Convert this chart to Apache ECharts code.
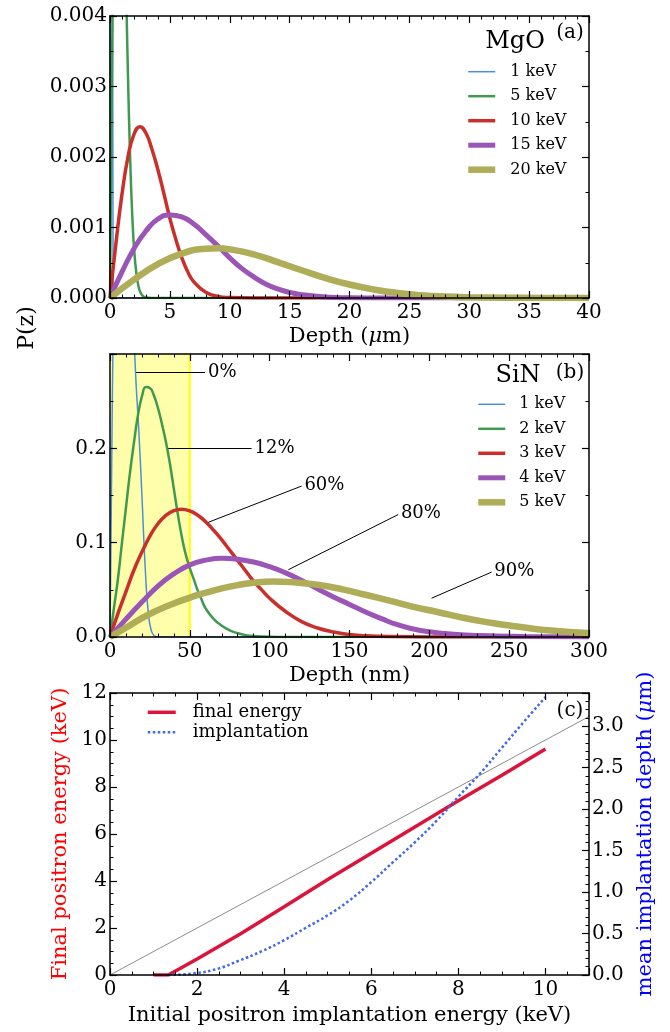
<!DOCTYPE html>
<html>
<head>
<meta charset="utf-8">
<title>Positron implantation profiles</title>
<script src="https://cdn.jsdelivr.net/npm/echarts@6/dist/echarts.min.js"></script>
<style>
html,body{margin:0;padding:0;background:#fff;}
#chart{width:670px;height:1032px;}
</style>
</head>
<body>
<div id="chart"></div>
<script>
// (a) MgO, depth in um
var mgoLabels = ['1 keV', '5 keV', '10 keV', '15 keV', '20 keV'];
var mgo1 = [[0,0],[0.02,0.03],[0.05,0.08],[0.08,0.1],[0.12,0.07],[0.16,0.03],[0.2,0.008],[0.25,0.001],[0.3,0],[40,0]];
var mgo5 = [[0,0],[0.1,0.00198],[0.2,0.00384],[0.3,0.00548],[0.5,0.00779],[0.7,0.00858],[0.9,0.008],[1.1,0.00656],[1.2,0.00569],[1.3,0.0048],[1.4,0.00394],[1.5,0.00316],[1.6,0.00247],[1.7,0.00189],[1.8,0.00141],[1.9,0.00103],[2.0,0.00073],[2.2,0.00035],[2.4,0.00015],[2.6,0.00006],[2.8,0.00002],[3.0,0.000007],[3.5,0],[40,0]];
var mgo10 = [[0,0],[0.5,0.00078],[1,0.00147],[1.5,0.002],[2,0.00232],[2.5,0.00243],[3,0.00234],[3.5,0.00211],[4,0.00182],[4.5,0.00148],[5,0.00113],[5.5,0.00083],[6,0.00057],[6.5,0.00037],[7,0.00023],[8,0.00008],[9,0.000023],[10,0.000006],[12,0],[40,0]];
var mgo15 = [[0,0],[1,0.00037],[2,0.0007],[3,0.00095],[4,0.00112],[5,0.001177],[6,0.00115],[7,0.00105],[8,0.0009],[9,0.00074],[10,0.00057],[11,0.00042],[12,0.0003],[13,0.0002],[14,0.00013],[15,0.00008],[16,0.000048],[18,0.000015],[20,0.000004],[23,0],[40,0]];
var mgo20 = [[0,0],[2,0.00026],[4,0.00048],[6,0.00063],[8,0.0007],[9,0.000705],[10,0.00069],[12,0.00062],[14,0.00051],[16,0.000394],[18,0.000283],[20,0.000191],[22,0.000121],[24,0.000072],[26,0.00004],[28,0.000021],[30,0.000011],[33,0.000004],[36,0.000001],[40,0]];

// (b) SiN, depth in nm
var sinLabels = ['1 keV', '2 keV', '3 keV', '4 keV', '5 keV'];
var sin1 = [[0,0],[1,0.17],[2,0.33],[4,0.55],[6,0.66],[8,0.68],[10,0.62],[12,0.5],[14,0.37],[16,0.28],[18,0.22],[20,0.15],[22,0.075],[24,0.025],[26,0.006],[28,0.001],[30,0],[300,0]];
var sin2 = [[0,0],[2.5,0.031],[5,0.062],[7.5,0.1],[10,0.137],[12.5,0.174],[15,0.206],[17.5,0.235],[20,0.255],[22.5,0.265],[25,0.264],[27.5,0.256],[30,0.243],[32.5,0.226],[35,0.207],[37.5,0.184],[40,0.157],[42.5,0.13],[45,0.106],[47.5,0.087],[50,0.073],[52.5,0.061],[55,0.049],[57.5,0.039],[60,0.03],[65,0.019],[70,0.012],[75,0.007],[80,0.004],[85,0.002],[90,0.001],[100,0.0002],[110,0],[300,0]];
var sin3 = [[0,0],[5,0.025],[10,0.048],[15,0.071],[20,0.09],[25,0.107],[30,0.12],[35,0.129],[40,0.134],[44.7,0.1355],[50,0.1337],[55,0.129],[60,0.122],[65,0.113],[70,0.103],[75,0.092],[80,0.081],[85,0.07],[90,0.059],[95,0.05],[100,0.041],[110,0.027],[120,0.0163],[130,0.0095],[140,0.0053],[150,0.0027],[160,0.0013],[175,0.0004],[200,0.00004],[240,0],[300,0]];
var sin4 = [[0,0],[10,0.019],[20,0.037],[30,0.054],[40,0.067],[50,0.0765],[60,0.0815],[70,0.0835],[80,0.0825],[90,0.0795],[100,0.0745],[110,0.068],[120,0.06],[130,0.051],[140,0.0425],[150,0.0345],[160,0.0265],[170,0.0195],[180,0.013],[190,0.0085],[200,0.0055],[210,0.0037],[220,0.0025],[240,0.0012],[260,0.0005],[300,0.0001]];
var sin5 = [[0,0],[10,0.0098],[20,0.02],[30,0.0285],[40,0.0355],[50,0.0418],[60,0.047],[70,0.0515],[80,0.055],[90,0.0575],[102,0.0589],[115,0.058],[130,0.0553],[145,0.0508],[160,0.0448],[175,0.0385],[190,0.032],[205,0.0265],[220,0.0208],[235,0.016],[250,0.0122],[265,0.0088],[280,0.0064],[300,0.0042]];

// shaded region and annotations of (b)
var bandLeft = 0, bandRight = 50;
var annLabels = ['0%', '12%', '60%', '80%', '90%'];
var annFrom = [[16.3,0.281],[36.5,0.2],[61.6,0.1216],[111.7,0.0713],[201.4,0.0411]];
var annTo = [[59.5,0.281],[88.7,0.2],[120,0.16],[180.5,0.1298],[239,0.0688]];

// (c) energy in keV, depth in um
var initialE = [1.0, 1.34, 2, 3, 4, 5, 6, 7, 8, 9, 10];
var finalE = [0, 0, 0.68, 1.76, 2.9, 4.06, 5.18, 6.3, 7.41, 8.5, 9.62];
var depthE = [1.34, 1.95, 2.5, 2.95, 3.5, 4, 4.5, 5, 5.5, 6, 6.5, 7, 7.5, 8, 8.5, 9, 9.5, 10];
var meanDepth = [0, 0.02, 0.08, 0.17, 0.29, 0.42, 0.57, 0.72, 0.9, 1.12, 1.36, 1.6, 1.86, 2.15, 2.43, 2.74, 3.05, 3.35];
var diagonal = [[0,0],[11,11]];

var serif = 'DejaVu Serif';
var colors = ['#4a90d9', '#3f9a4f', '#c9302c', '#9b55b7', '#b0ad58'];
var widths = [1.5, 2.5, 3.5, 5, 6.5];
var noSymbol = {color: 'rgba(0,0,0,0)', borderWidth: 0, opacity: 0};

function axis(grid, pos, min, max, step, minorSplit, showLabels, fmt) {
    var ax = {
        type: 'value', gridIndex: grid, position: pos, min: min, max: max, interval: step, z: 10,
        axisLine: {show: true, onZero: false, lineStyle: {color: '#000', width: 1.5}},
        axisTick: {show: true, inside: true, length: 7, lineStyle: {color: '#000', width: 1.2}},
        minorTick: {show: true, splitNumber: minorSplit, length: 3.5, lineStyle: {color: '#000', width: 1}},
        splitLine: {show: false},
        minorSplitLine: {show: false},
        axisLabel: {show: showLabels, fontFamily: serif, fontSize: 20, color: '#000',
            margin: (pos == 'left' || pos == 'right') ? 3 : 5, showMinLabel: true}
    };
    if (fmt) ax.axisLabel.formatter = fmt;
    return ax;
}

function nameIt(ax, name, gap, color, rotate) {
    ax.name = name;
    ax.nameLocation = 'middle';
    ax.nameGap = gap;
    if (rotate != null) ax.nameRotate = rotate;
    ax.nameTextStyle = {fontFamily: serif, fontSize: 21, color: color,
        rich: {i: {fontFamily: serif, fontSize: 21, fontStyle: 'italic', color: color}}};
    return ax;
}

function curve(name, pts, color, width, xi, yi) {
    return {
        name: name, type: 'line', data: pts, xAxisIndex: xi, yAxisIndex: yi,
        symbol: 'none', smooth: 0.5, z: 3,
        lineStyle: {color: color, width: width}, itemStyle: {color: color}
    };
}

function pairs(xs, ys) {
    var out = [];
    for (var i = 0; i < xs.length; i++) out.push([xs[i], ys[i]]);
    return out;
}

// x axes: 0,1 (a)  2,3 (b)  4,5 (c)
var xAxes = [
    nameIt(axis(0, 'bottom', 0, 40, 5, 5, true), 'Depth ({i|\u03bc}m)', 28, '#000'),
    axis(0, 'top', 0, 40, 5, 5, false),
    nameIt(axis(1, 'bottom', 0, 300, 50, 5, true), 'Depth (nm)', 28, '#000'),
    axis(1, 'top', 0, 300, 50, 5, false),
    nameIt(axis(2, 'bottom', 0, 11, 2, 4, true), 'Initial positron implantation energy (keV)', 30, '#000'),
    axis(2, 'top', 0, 11, 2, 4, false)
];
xAxes[4].axisLabel.showMaxLabel = false;

var yAxes = [
    axis(0, 'left', 0, 0.004, 0.001, 2, true, function (v) { return v.toFixed(3); }),
    axis(0, 'right', 0, 0.004, 0.001, 2, false),
    axis(1, 'left', 0, 0.3, 0.1, 2, true, function (v) { return v.toFixed(1); }),
    axis(1, 'right', 0, 0.3, 0.1, 2, false),
    nameIt(axis(2, 'left', 0, 12, 2, 4, true), 'Final positron energy (keV)', 37, '#ff0000', 90),
    nameIt(axis(2, 'right', 0, 3.4, 0.5, 5, true, function (v) { return v.toFixed(1); }),
        'mean implantation depth ({i|\u03bc}m)', 43, '#0000ff', 90)
];
yAxes[2].axisLabel.showMaxLabel = false;
yAxes[5].axisLabel.showMaxLabel = false;

var series = [];
var mgoData = [mgo1, mgo5, mgo10, mgo15, mgo20];
var sinData = [sin1, sin2, sin3, sin4, sin5];
var legendA = [], legendB = [];
for (var i = 0; i < 5; i++) {
    series.push(curve(mgoLabels[i], mgoData[i], colors[i], widths[i], 0, 0));
    legendA.push({name: mgoLabels[i], itemStyle: noSymbol, lineStyle: {color: colors[i], width: widths[i]}});
}
for (var j = 0; j < 5; j++) {
    series.push(curve(sinLabels[j] + ' (b)', sinData[j], colors[j], widths[j], 2, 2));
    legendB.push({name: sinLabels[j] + ' (b)', itemStyle: noSymbol, lineStyle: {color: colors[j], width: widths[j]}});
}

// yellow band, its edge and the percentage pointers
var annLines = [];
for (var k = 0; k < annLabels.length; k++) {
    annLines.push([
        {coord: annFrom[k]},
        {coord: annTo[k], label: {show: true, position: 'end', formatter: annLabels[k], distance: 3,
            fontFamily: serif, fontSize: 18, color: '#000'}}
    ]);
}
series.push({
    name: 'band', type: 'line', xAxisIndex: 2, yAxisIndex: 2, z: 1,
    data: [[bandRight, 0], [bandRight, 0.3]], symbol: 'none',
    lineStyle: {color: '#ffff00', width: 2},
    markArea: {silent: true, z: 1, itemStyle: {color: 'rgba(255,255,0,0.33)', borderWidth: 0},
        data: [[{xAxis: bandLeft}, {xAxis: bandRight}]]},
    markLine: {silent: true, symbol: ['none', 'none'], animation: false,
        lineStyle: {color: '#000', width: 1, type: 'solid'}, data: annLines}
});

series.push({name: 'diag', type: 'line', xAxisIndex: 4, yAxisIndex: 4, data: diagonal, symbol: 'none', z: 2,
    lineStyle: {color: '#8c8c8c', width: 1}});
series.push({name: 'final energy', type: 'line', xAxisIndex: 4, yAxisIndex: 4, data: pairs(initialE, finalE),
    symbol: 'none', z: 3, lineStyle: {color: '#dc143c', width: 3.5}, itemStyle: {color: '#dc143c'}});
series.push({name: 'implantation', type: 'line', xAxisIndex: 4, yAxisIndex: 5, data: pairs(depthE, meanDepth),
    symbol: 'none', smooth: 0.5, z: 3,
    lineStyle: {color: '#4169e1', width: 2.5, type: 'dotted'}, itemStyle: {color: '#4169e1'}});

function legend(left, top, data, size, lh, itemW, pad, gap) {
    return {
        show: true, orient: 'vertical', left: left, top: top, padding: 0, selectedMode: false,
        itemWidth: itemW, itemHeight: 12, itemGap: gap, data: data, itemStyle: noSymbol,
        formatter: function (n) { return n.replace(' (b)', ''); },
        textStyle: {fontFamily: serif, fontSize: size, color: '#000', lineHeight: lh, padding: [0, 0, 0, pad]}
    };
}

function label(text, x, y, size, rot) {
    return {type: 'text', x: x, y: y, rotation: rot || 0, z: 20,
        style: {text: text, font: size + 'px "DejaVu Serif"', fill: '#000', align: 'center', verticalAlign: 'middle'}};
}

var chart = echarts.init(document.getElementById('chart'), null, {renderer: 'canvas'});
chart.setOption({
    animation: false,
    backgroundColor: '#fff',
    grid: [
        {left: 110, top: 16, width: 479, height: 282, outerBoundsMode: 'none'},
        {left: 110, top: 354, width: 479, height: 283, outerBoundsMode: 'none'},
        {left: 110, top: 693, width: 479, height: 282, outerBoundsMode: 'none'}
    ],
    xAxis: xAxes,
    yAxis: yAxes,
    legend: [
        legend(465, 62.7, legendA, 16, 18, 27, 10, 6.5),
        legend(475, 395.3, legendB, 16, 18, 27, 9, 6.5),
        legend(146, 702.3, [
            {name: 'final energy', itemStyle: noSymbol, lineStyle: {color: '#dc143c', width: 3.5}},
            {name: 'implantation', itemStyle: noSymbol, lineStyle: {color: '#4169e1', width: 2.5, type: 'dotted'}}
        ], 18, 20, 28, 12, 0)
    ],
    graphic: [
        label('P(z)', 27, 328, 22, Math.PI / 2),
        label('MgO', 515, 42, 24),
        label('(a)', 570, 33, 20),
        label('SiN', 518, 376, 24),
        label('(b)', 570, 373, 20),
        label('(c)', 570, 711, 20)
    ],
    series: series
});
</script>
</body>
</html>
